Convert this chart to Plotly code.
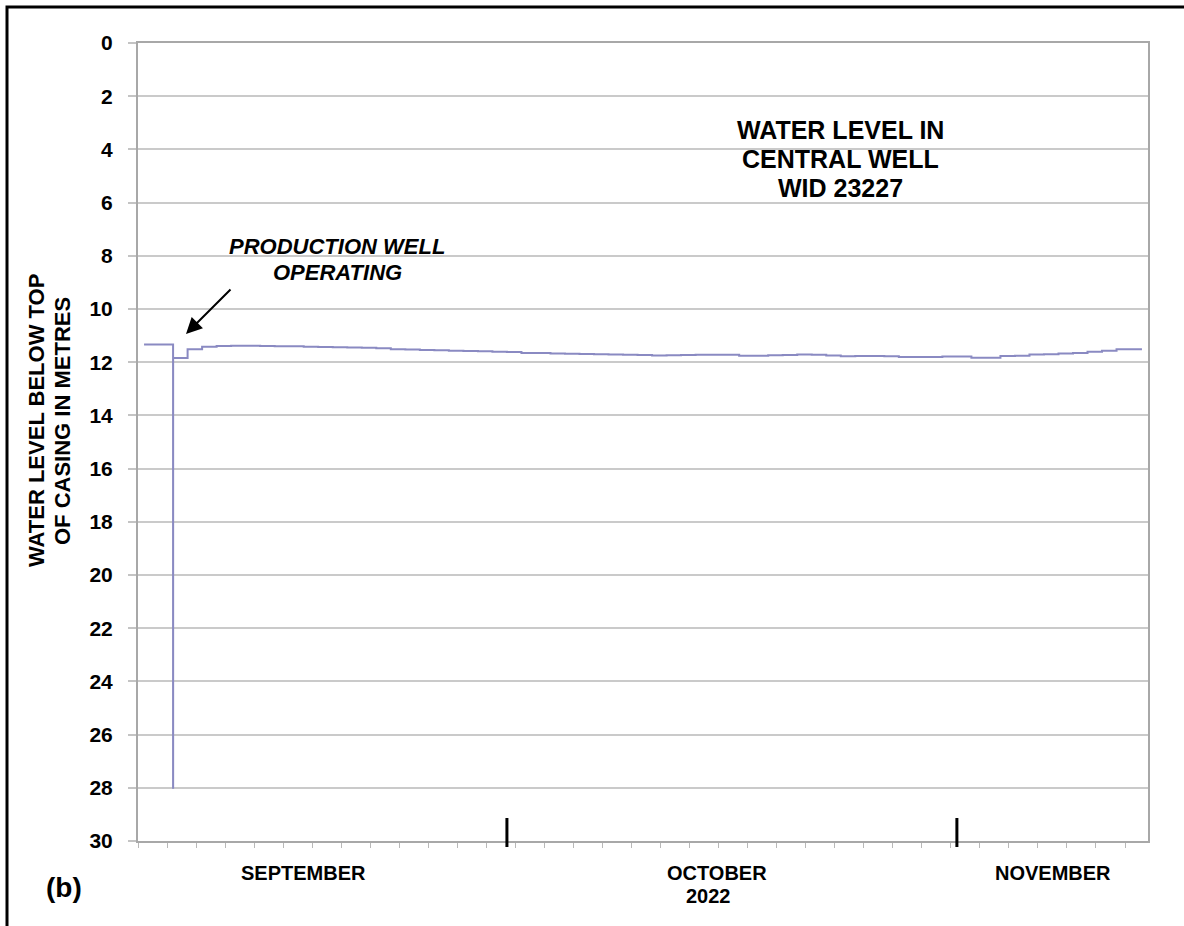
import plotly.graph_objects as go
import pandas as pd

# ---- data ----
dates = (["2022-09-06", "2022-09-07", "2022-09-08 00:00", "2022-09-08 00:05"]
         + [d.strftime("%Y-%m-%d") for d in pd.date_range("2022-09-09", "2022-11-13", freq="D")]
         + ["2022-11-13 18:00"])
levels = [11.33, 11.33, 28.0, 11.84,
          11.51, 11.42, 11.39, 11.38, 11.38, 11.39, 11.40, 11.40, 11.42, 11.43,
          11.44, 11.45, 11.46, 11.48, 11.51, 11.52, 11.54, 11.55, 11.57, 11.58,
          11.59, 11.61, 11.62, 11.65, 11.65, 11.67, 11.68, 11.69, 11.70, 11.71,
          11.72, 11.73, 11.75, 11.74, 11.73, 11.72, 11.72, 11.72, 11.76, 11.76,
          11.74, 11.73, 11.71, 11.72, 11.75, 11.78, 11.77, 11.77, 11.78, 11.80,
          11.80, 11.80, 11.79, 11.79, 11.83, 11.83, 11.77, 11.76, 11.71, 11.70,
          11.67, 11.65, 11.61, 11.57, 11.51, 11.51,
          11.51]
month_bounds = ["2022-10-01", "2022-11-01"]
month_labels = ["SEPTEMBER", "OCTOBER", "NOVEMBER"]
year_label = "2022"
y_ticks = list(range(0, 31, 2))
x_range = ["2022-09-05 14:00", "2022-11-14 04:00"]
title_lines = ["WATER LEVEL IN", "CENTRAL WELL", "WID 23227"]
note_lines = ["PRODUCTION WELL", "OPERATING"]
ytitle_lines = ["WATER LEVEL BELOW TOP", "OF CASING IN METRES"]

FONT = "Liberation Sans, Arial, sans-serif"

fig = go.Figure()
fig.add_trace(go.Scatter(
    x=dates, y=levels, mode="lines", line=dict(color="#8a8ac2", width=2, shape="hv"),
    hoverinfo="x+y", showlegend=False))

L, R, T, B = 138, 36, 43, 85
W, H = 1184, 926
pw, ph = W - L - R, H - T - B

def px(xp):
    return (xp - L) / pw

def py(yp):
    return (H - B - yp) / ph

fig.update_layout(
    width=W, height=H,
    margin=dict(l=L, r=R, t=T, b=B, pad=0),
    paper_bgcolor="white", plot_bgcolor="white",
    font=dict(family=FONT, color="black"),
    showlegend=False,
)
fig.update_xaxes(
    type="date", range=x_range,
    tickvals=month_bounds, showticklabels=False,
    ticks="", showgrid=False, zeroline=False,
    showline=True, linecolor="#a8a8a8", linewidth=2, mirror=True,
    minor=dict(ticks="outside", ticklen=5, tickwidth=1, tickcolor="#b8b8b8",
               tick0="2022-09-05 14:00", dtick=2 * 86400000, showgrid=False),
)
fig.update_yaxes(
    range=[30, 0], tickvals=y_ticks, ticktext=[str(v) for v in y_ticks],
    tickfont=dict(family=FONT, size=21, color="black", weight="bold"),
    ticks="outside", ticklen=8, tickcolor="#c4c4c4", tickwidth=1.5,
    ticklabelstandoff=11,
    showgrid=True, gridcolor="#cacaca", gridwidth=1.5, zeroline=False,
    showline=True, linecolor="#a8a8a8", linewidth=2, mirror=True,
)

# big month-boundary ticks
for d in month_bounds:
    fig.add_shape(type="line", xref="x", yref="paper", x0=d, x1=d,
                  y0=py(847), y1=py(818), line=dict(color="black", width=3))

# outer frame
fig.add_shape(type="rect", xref="paper", yref="paper",
              x0=px(7), x1=px(1200), y0=py(940), y1=py(7),
              line=dict(color="black", width=3), fillcolor="rgba(0,0,0,0)", layer="below")

ann = []
for t, yp in zip(title_lines, [130, 159, 188]):
    ann.append(dict(text=t, x=px(840), y=py(yp), font=dict(size=25, weight="bold")))
for t, yp in zip(note_lines, [246, 272]):
    ann.append(dict(text="<i>" + t + "</i>", x=px(337), y=py(yp), font=dict(size=22, weight="bold")))
for t, xp in zip(ytitle_lines, [36, 62]):
    ann.append(dict(text=t, x=px(xp), y=py(421), textangle=-90,
                    font=dict(size=22, weight="bold")))
for lab, xp in zip(month_labels, [303, 717, 1053]):
    ann.append(dict(text=lab, x=px(xp), y=py(873), font=dict(size=20, weight="bold")))
ann.append(dict(text=year_label, x=px(708), y=py(896), font=dict(size=20, weight="bold")))
ann.append(dict(text="(b)", x=px(64), y=py(887), font=dict(size=28, weight="bold")))
for a in ann:
    a.update(xref="paper", yref="paper", showarrow=False, xanchor="center", yanchor="middle")
    a["font"].update(family=FONT, color="black")
    fig.add_annotation(**a)

# arrow
fig.add_annotation(x=px(186), y=py(334), xref="paper", yref="paper",
                   ax=46, ay=-46, axref="pixel", ayref="pixel",
                   text="", showarrow=True, arrowhead=2, arrowsize=1.6,
                   arrowwidth=2, arrowcolor="black")

fig.write_html("out.html", config={"displayModeBar": False},
               post_script="document.body.style.margin='0px';document.body.style.overflow='hidden';")
